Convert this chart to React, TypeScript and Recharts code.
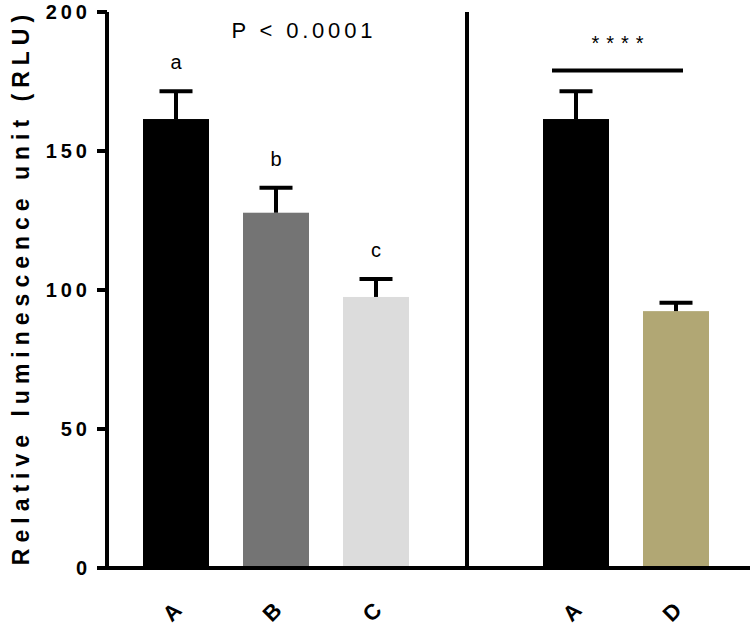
import React from 'react';
import {
  ComposedChart,
  Bar,
  Cell,
  XAxis,
  YAxis,
  ReferenceLine,
  ReferenceDot,
} from 'recharts';

// groups: A, B, C | A, D  (slot 4 left empty for the divider)
const positions = [1, 2, 3, 5, 6];
const tickLabels = ['A', 'B', 'C', 'A', 'D'];
const means = [161.5, 127.8, 97.5, 161.5, 92.4];
const sds = [10, 9, 6.5, 10, 3];
const letters = ['a', 'b', 'c', '', ''];
const barColors = ['#000000', '#747474', '#dcdcdc', '#000000', '#b1a774'];
const yTicks = [0, 50, 100, 150, 200];

// annotation positions on the x axis
const dividerX = 3.91;
const sigFrom = 4.76;
const sigTo = 6.07;
const sigY = 179;
const starsY = 189;
const pTextX = 2.26;
const pTextY = 193.5;

const data = positions.map((p, i) => ({
  pos: p,
  label: tickLabels[i],
  mean: means[i],
  sd: sds[i],
  letter: letters[i],
}));

const FONT = '"Liberation Sans", Arial, Helvetica, sans-serif';

const XTick = (props: any) => {
  const { x, y, payload } = props;
  const idx = positions.indexOf(payload.value);
  const cx = x - 4;
  const cy = y + 36;
  return (
    <text
      x={cx}
      y={cy}
      transform={`rotate(-45, ${cx}, ${cy})`}
      textAnchor="middle"
      dominantBaseline="central"
      fontFamily={FONT}
      fontWeight="bold"
      fontSize={22}
      fill="#000"
    >
      {idx >= 0 ? tickLabels[idx] : ''}
    </text>
  );
};

const YTick = (props: any) => {
  const { x, y, payload } = props;
  return (
    <text
      x={x - 4}
      y={y}
      textAnchor="end"
      dominantBaseline="central"
      fontFamily={FONT}
      fontWeight="bold"
      fontSize={20}
      letterSpacing={4}
      fill="#000"
    >
      {payload.value}
    </text>
  );
};

// bar with an upward-only SD whisker
const BarWithError = (props: any) => {
  const { x, y, width, height, fill, payload } = props;
  const perUnit = payload.mean ? height / payload.mean : 0;
  const top = y - payload.sd * perUnit;
  const cx = x + width / 2;
  return (
    <g>
      <rect x={x} y={y} width={width} height={height} fill={fill} />
      <line x1={cx} y1={y} x2={cx} y2={top} stroke="#000" strokeWidth={4} />
      <line x1={cx - 16.5} y1={top} x2={cx + 16.5} y2={top} stroke="#000" strokeWidth={4} />
    </g>
  );
};

const TextLabel = (text: string, size: number, spacing: number) => (props: any) => {
  const { viewBox } = props;
  const cx = viewBox.x + viewBox.width / 2;
  const cy = viewBox.y + viewBox.height / 2;
  return (
    <text
      x={cx + spacing / 2}
      y={cy}
      textAnchor="middle"
      dominantBaseline="central"
      fontFamily={FONT}
      fontSize={size}
      letterSpacing={spacing}
      fill="#000"
    >
      {text}
    </text>
  );
};

const App: React.FC = () => {
  return (
    <div style={{ position: 'absolute', left: 0, top: 0, width: 750, height: 627, background: '#fff' }}>
      <ComposedChart
        width={750}
        height={627}
        data={data}
        margin={{ top: 12, right: 0, bottom: 0, left: 0 }}
        barSize={66}
      >
        <XAxis
          dataKey="pos"
          type="number"
          domain={[0.5, 6.5]}
          allowDataOverflow
          ticks={positions}
          padding={{ left: 19, right: 24 }}
          axisLine={{ stroke: '#000', strokeWidth: 4 }}
          tickLine={false}
          tick={<XTick />}
          interval={0}
          height={59}
        />
        <YAxis
          domain={[0, 200]}
          ticks={yTicks}
          width={107}
          axisLine={{ stroke: '#000', strokeWidth: 4 }}
          tickLine={{ stroke: '#000', strokeWidth: 4 }}
          tickSize={10}
          tick={<YTick />}
          label={{
            content: () => (
              <text
                x={21}
                y={287}
                transform="rotate(-90, 21, 287)"
                textAnchor="middle"
                dominantBaseline="central"
                fontFamily={FONT}
                fontWeight="bold"
                fontSize={23}
                letterSpacing={6}
                fill="#000"
              >
                Relative luminescence unit (RLU)
              </text>
            ),
          }}
        />
        <Bar dataKey="mean" isAnimationActive={false} shape={<BarWithError />}>
          {data.map((d, i) => (
            <Cell key={i} fill={barColors[i]} />
          ))}
        </Bar>
        <ReferenceLine x={dividerX} stroke="#000" strokeWidth={4} />
        <ReferenceLine
          segment={[
            { x: sigFrom, y: sigY },
            { x: sigTo, y: sigY },
          ]}
          stroke="#000"
          strokeWidth={4}
        />
        <ReferenceDot
          x={(sigFrom + sigTo) / 2}
          y={starsY}
          r={0}
          stroke="none"
          fill="none"
          label={{ content: TextLabel('****', 20, 7) }}
        />
        <ReferenceDot
          x={pTextX}
          y={pTextY}
          r={0}
          stroke="none"
          fill="none"
          label={{ content: TextLabel('P < 0.0001', 22, 3.8) }}
        />
        {data
          .filter((d) => d.letter)
          .map((d) => (
            <ReferenceDot
              key={'l' + d.pos}
              x={d.pos}
              y={d.mean + d.sd + 10.5}
              r={0}
              stroke="none"
              fill="none"
              label={{ content: TextLabel(d.letter, 20, 0) }}
            />
          ))}
      </ComposedChart>
    </div>
  );
};

export default App;
